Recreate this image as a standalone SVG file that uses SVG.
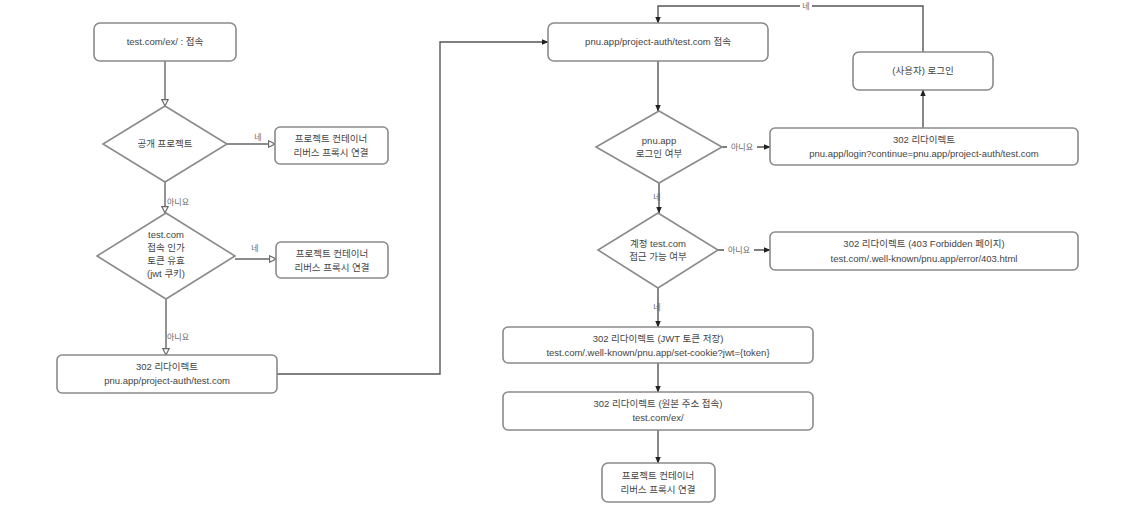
<svg xmlns="http://www.w3.org/2000/svg" width="1143" height="506" viewBox="0 0 1143 506">
<style>
.box{fill:#fff;stroke:#8a8a8a;stroke-width:1.6}
.dia{fill:#fff;stroke:#8a8a8a;stroke-width:1.6}
.t{font-family:"Liberation Sans","Noto Sans CJK KR",sans-serif;font-size:9.5px;fill:#444;text-anchor:middle}
.lbl{font-family:"Liberation Sans","Noto Sans CJK KR",sans-serif;font-size:8px;fill:#666;text-anchor:middle}
.c{fill:none;stroke:#666;stroke-width:1.4}
.co{fill:none;stroke:#666;stroke-width:1.4;marker-end:url(#open)}
.cf{fill:none;stroke:#555;stroke-width:1.4;marker-end:url(#fill)}
</style>
<defs>
<marker id="open" viewBox="0 0 10 10" refX="9" refY="5" markerWidth="8" markerHeight="8" markerUnits="userSpaceOnUse" orient="auto">
<path d="M1,1 L9,5 L1,9 Z" fill="#fff" stroke="#666" stroke-width="1.4"/>
</marker>
<marker id="fill" viewBox="0 0 10 10" refX="9" refY="5" markerWidth="7" markerHeight="7" markerUnits="userSpaceOnUse" orient="auto">
<path d="M0,1 L10,5 L0,9 Z" fill="#222"/>
</marker>
</defs>
<rect width="1143" height="506" fill="#fff"/>

<g id="connectors">
<path class="co" d="M165,61 V106"/>
<path class="co" d="M227,144 H275"/>
<path class="co" d="M165,182 V213"/>
<path class="co" d="M235,259 H276"/>
<path class="co" d="M166,299 V355"/>
<path class="cf" d="M277,374 H440 V42 H548"/>
<path class="cf" d="M923,52 V6 H658 V23"/>
<path class="cf" d="M658,60 V111"/>
<path class="cf" d="M722,147 H770"/>
<path class="cf" d="M923,128 V90"/>
<path class="cf" d="M659,183 V213"/>
<path class="cf" d="M718,250 H770"/>
<path class="cf" d="M658,288 V327"/>
<path class="cf" d="M658,363 V392"/>
<path class="cf" d="M658,430 V463"/>
<text class="lbl" x="258" y="140">네</text>
<text class="lbl" x="178" y="205">아니요</text>
<text class="lbl" x="255" y="251">네</text>
<text class="lbl" x="178" y="340">아니요</text>
<rect x="800" y="1" width="12" height="9" fill="#fff"/>
<text class="lbl" x="806" y="9">네</text>
<rect x="727" y="141" width="30" height="11" fill="#fff"/>
<text class="lbl" x="742" y="150">아니요</text>
<text class="lbl" x="657" y="200">네</text>
<rect x="724" y="244" width="30" height="11" fill="#fff"/>
<text class="lbl" x="739" y="253">아니요</text>
<text class="lbl" x="657" y="310">네</text>
</g>

<g id="n1"><rect class="box" x="94" y="23" width="142" height="38" rx="6"/><text class="t" x="165" y="45">test.com/ex/ : 접속</text></g>
<g id="n2"><path class="dia" d="M165,106 L227,144 L165,182 L103,144 Z"/><text class="t" x="165" y="147">공개 프로젝트</text></g>
<g id="n3"><rect class="box" x="275" y="127" width="113" height="37" rx="5"/><text class="t" x="331" y="142">프로젝트 컨테이너</text><text class="t" x="331" y="156">리버스 프록시 연결</text></g>
<g id="n4"><path class="dia" d="M166,213 L235,256 L166,299 L97,256 Z"/><text class="t" x="166" y="238">test.com</text><text class="t" x="166" y="251">접속 인가</text><text class="t" x="166" y="264">토큰 유효</text><text class="t" x="166" y="277">(jwt 쿠키)</text></g>
<g id="n5"><rect class="box" x="276" y="242" width="112" height="36" rx="5"/><text class="t" x="332" y="257">프로젝트 컨테이너</text><text class="t" x="332" y="271">리버스 프록시 연결</text></g>
<g id="n6"><rect class="box" x="57" y="355" width="220" height="38" rx="5"/><text class="t" x="167" y="370">302 리다이렉트</text><text class="t" x="167" y="384">pnu.app/project-auth/test.com</text></g>

<g id="n7"><rect class="box" x="548" y="23" width="220" height="38" rx="6"/><text class="t" x="658" y="45">pnu.app/project-auth/test.com 접속</text></g>
<g id="n8"><rect class="box" x="853" y="52" width="140" height="38" rx="6"/><text class="t" x="923" y="74">(사용자) 로그인</text></g>
<g id="n9"><path class="dia" d="M659,111 L722,147 L659,183 L596,147 Z"/><text class="t" x="659" y="144">pnu.app</text><text class="t" x="659" y="157">로그인 여부</text></g>
<g id="n10"><rect class="box" x="770" y="128" width="308" height="37" rx="5"/><text class="t" x="924" y="143">302 리다이렉트</text><text class="t" x="924" y="157">pnu.app/login?continue=pnu.app/project-auth/test.com</text></g>
<g id="n11"><path class="dia" d="M658,213 L718,250 L658,288 L598,250 Z"/><text class="t" x="658" y="247">계정 test.com</text><text class="t" x="658" y="260">접근 가능 여부</text></g>
<g id="n12"><rect class="box" x="770" y="232" width="308" height="38" rx="5"/><text class="t" x="924" y="247">302 리다이렉트 (403 Forbidden 페이지)</text><text class="t" x="924" y="262">test.com/.well-known/pnu.app/error/403.html</text></g>
<g id="n13"><rect class="box" x="503" y="327" width="310" height="36" rx="5"/><text class="t" x="658" y="342">302 리다이렉트 (JWT 토큰 저장)</text><text class="t" x="658" y="356">test.com/.well-known/pnu.app/set-cookie?jwt={token}</text></g>
<g id="n14"><rect class="box" x="503" y="392" width="310" height="38" rx="5"/><text class="t" x="658" y="407">302 리다이렉트 (원본 주소 접속)</text><text class="t" x="658" y="421">test.com/ex/</text></g>
<g id="n15"><rect class="box" x="602" y="463" width="113" height="39" rx="6"/><text class="t" x="658" y="479">프로젝트 컨테이너</text><text class="t" x="658" y="493">리버스 프록시 연결</text></g>
</svg>
